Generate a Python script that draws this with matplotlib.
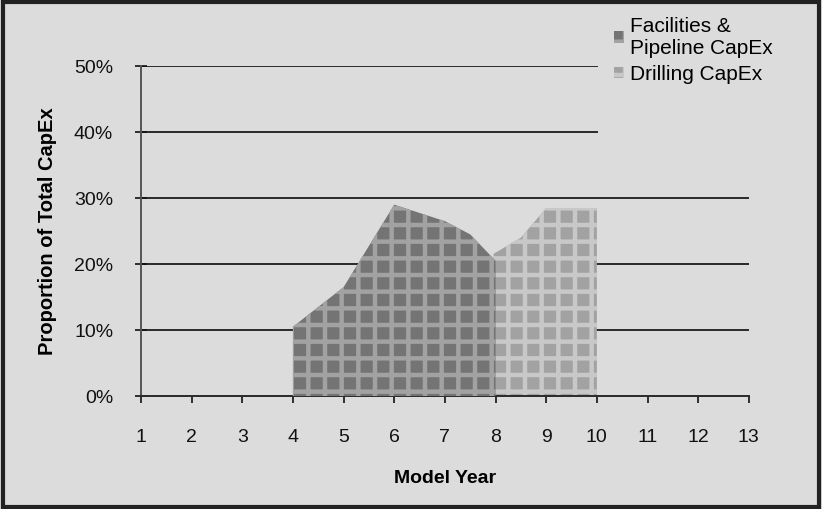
import matplotlib
matplotlib.use("Agg")
import matplotlib.pyplot as plt
from matplotlib.patches import Rectangle

# data (proportion of total CapEx)
fac_years = [4, 4, 5, 6, 7, 7.5, 8, 8]
fac_share = [0.0, 0.105, 0.165, 0.29, 0.265, 0.245, 0.205, 0.0]
drill_years = [7.95, 7.95, 8.5, 9, 10, 10]
drill_share = [0.0, 0.215, 0.24, 0.285, 0.285, 0.0]
year_ticks = list(range(1, 14))
pct_ticks = [0, 0.1, 0.2, 0.3, 0.4, 0.5]

plt.rcParams['font.family'] = ['Liberation Sans', 'DejaVu Sans']
plt.rcParams['hatch.linewidth'] = 3.2

bg = '#dcdcdc'
fig = plt.figure(figsize=(8.22, 5.09), dpi=100, facecolor=bg)
ax = fig.add_axes([0.1715, 0.222, 0.7395, 0.648])
ax.set_facecolor(bg)

for y in pct_ticks[1:]:
    # the legend box hides the upper lines beyond year 10
    xmax = 0.75 if y > 0.35 else 1.0
    ax.axhline(y, xmax=xmax, color='#2a2a2a', lw=1.4, zorder=1)

ax.fill_between(drill_years, drill_share, color='#a2a2a2', edgecolor='#c8c8c8',
                hatch='+', linewidth=0, zorder=2, label='Drilling CapEx')
ax.fill_between(fac_years, fac_share, color='#747474', edgecolor='#a2a2a2',
                hatch='+', linewidth=0, zorder=3, label='Facilities &\nPipeline CapEx')

ax.set_xlim(1, 13)
ax.set_ylim(0, 0.5)
ax.set_xticks(year_ticks)
ax.set_yticks(pct_ticks)
ax.set_yticklabels([f"{int(round(p * 100))}%" for p in pct_ticks])
ax.tick_params(axis='both', labelsize=14, colors='#111111', width=1.2)
ax.tick_params(axis='x', direction='out', length=5, pad=19)
ax.tick_params(axis='y', direction='inout', length=8, pad=16)

for s in ['top', 'right']:
    ax.spines[s].set_visible(False)
ax.spines['left'].set_color('#555555')
ax.spines['left'].set_linewidth(1.4)
ax.spines['bottom'].set_color('#2a2a2a')
ax.spines['bottom'].set_linewidth(1.4)

ax.set_xlabel('Model Year', fontsize=14, fontweight='bold', labelpad=17)
ax.set_ylabel('Proportion of Total CapEx', fontsize=14.5, fontweight='bold', labelpad=12)

h, l = ax.get_legend_handles_labels()
leg = fig.legend(h[::-1], l[::-1], loc='upper left', bbox_to_anchor=(0.729, 0.996),
                 frameon=False, fontsize=15, handlelength=0.5, handleheight=0.5,
                 handletextpad=0.3, labelspacing=0.35, borderpad=0.2)

fig.patches.append(Rectangle((0.004, 0.004), 0.992, 0.992, transform=fig.transFigure,
                             fill=False, edgecolor='#222222', lw=3))

fig.savefig('out.png', dpi=100, facecolor=bg)
